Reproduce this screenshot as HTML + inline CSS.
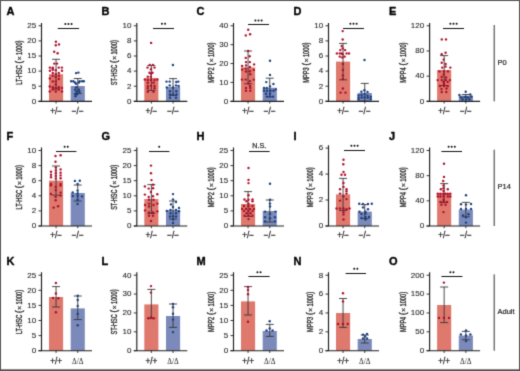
<!DOCTYPE html>
<html><head><meta charset="utf-8"><style>
html,body{margin:0;padding:0;background:#fff;}
svg{display:block;font-family:"Liberation Sans",sans-serif;will-change:transform;}
</style></head><body>
<svg width="520" height="371" viewBox="0 0 520 371">
<defs><filter id="soft" x="0" y="0" width="520" height="371" filterUnits="userSpaceOnUse" color-interpolation-filters="sRGB"><feConvolveMatrix order="3" kernelMatrix="2 10 2 10 52 10 2 10 2" divisor="100" edgeMode="duplicate"/></filter></defs>
<g filter="url(#soft)">
<rect x="0" y="0" width="520" height="371" fill="#ffffff"/>
<text x="6.5" y="15.3" font-size="11" font-weight="bold" fill="#000" stroke="#000" stroke-width="0.35">A</text>
<rect x="49" y="74.2" width="14.1" height="27.1" fill="#df786d"/>
<rect x="70.7" y="86" width="14.1" height="15.3" fill="#7b8abb"/>
<path d="M56.05 59.3V89.1M52.05 59.3H60.05M52.05 89.1H60.05" stroke="#353535" stroke-width="0.9" fill="none"/>
<path d="M77.75 78.5V93.5M73.75 78.5H81.75M73.75 93.5H81.75" stroke="#353535" stroke-width="0.9" fill="none"/>
<circle cx="55.9" cy="41.8" r="1.2" fill="#ad0f29"/>
<circle cx="59" cy="44.4" r="1.2" fill="#ad0f29"/>
<circle cx="55.8" cy="45.3" r="1.2" fill="#ad0f29"/>
<circle cx="54.2" cy="51.8" r="1.2" fill="#ad0f29"/>
<circle cx="57.6" cy="53.3" r="1.2" fill="#ad0f29"/>
<circle cx="54.3" cy="63.6" r="1.2" fill="#ad0f29"/>
<circle cx="57" cy="63.6" r="1.2" fill="#ad0f29"/>
<circle cx="49.9" cy="67.6" r="1.2" fill="#ad0f29"/>
<circle cx="52.8" cy="67.6" r="1.2" fill="#ad0f29"/>
<circle cx="58.8" cy="67.6" r="1.2" fill="#ad0f29"/>
<circle cx="61.9" cy="67.6" r="1.2" fill="#ad0f29"/>
<circle cx="52.8" cy="69.8" r="1.2" fill="#ad0f29"/>
<circle cx="55.8" cy="70.3" r="1.2" fill="#ad0f29"/>
<circle cx="49.9" cy="70.8" r="1.2" fill="#ad0f29"/>
<circle cx="62" cy="70.8" r="1.2" fill="#ad0f29"/>
<circle cx="52.8" cy="72.9" r="1.2" fill="#ad0f29"/>
<circle cx="58.8" cy="72.9" r="1.2" fill="#ad0f29"/>
<circle cx="55.8" cy="74" r="1.2" fill="#ad0f29"/>
<circle cx="52.7" cy="75.8" r="1.2" fill="#ad0f29"/>
<circle cx="58.9" cy="75.8" r="1.2" fill="#ad0f29"/>
<circle cx="55.7" cy="77" r="1.2" fill="#ad0f29"/>
<circle cx="49.8" cy="78.5" r="1.2" fill="#ad0f29"/>
<circle cx="52.7" cy="68.8" r="1.2" fill="#ad0f29"/>
<circle cx="58.8" cy="79" r="1.2" fill="#ad0f29"/>
<circle cx="52.8" cy="81.4" r="1.2" fill="#ad0f29"/>
<circle cx="55.8" cy="81.4" r="1.2" fill="#ad0f29"/>
<circle cx="55.8" cy="84.4" r="1.2" fill="#ad0f29"/>
<circle cx="49.7" cy="86.5" r="1.2" fill="#ad0f29"/>
<circle cx="52.9" cy="87.3" r="1.2" fill="#ad0f29"/>
<circle cx="58.8" cy="87.3" r="1.2" fill="#ad0f29"/>
<circle cx="55.8" cy="88" r="1.2" fill="#ad0f29"/>
<circle cx="62" cy="88" r="1.2" fill="#ad0f29"/>
<circle cx="52.8" cy="89.5" r="1.2" fill="#ad0f29"/>
<circle cx="58.8" cy="89.5" r="1.2" fill="#ad0f29"/>
<circle cx="49.7" cy="91.5" r="1.2" fill="#ad0f29"/>
<circle cx="55.8" cy="91.5" r="1.2" fill="#ad0f29"/>
<circle cx="62" cy="91.5" r="1.2" fill="#ad0f29"/>
<circle cx="76.1" cy="73.1" r="1.2" fill="#193f7e"/>
<circle cx="78.4" cy="72.6" r="1.2" fill="#193f7e"/>
<circle cx="71.2" cy="81.3" r="1.2" fill="#193f7e"/>
<circle cx="73.3" cy="81.3" r="1.2" fill="#193f7e"/>
<circle cx="79.7" cy="81.3" r="1.2" fill="#193f7e"/>
<circle cx="82.2" cy="81.3" r="1.2" fill="#193f7e"/>
<circle cx="83.8" cy="81.3" r="1.2" fill="#193f7e"/>
<circle cx="74.9" cy="82.5" r="1.2" fill="#193f7e"/>
<circle cx="78.9" cy="82.5" r="1.2" fill="#193f7e"/>
<circle cx="76.1" cy="83.8" r="1.2" fill="#193f7e"/>
<circle cx="76.1" cy="87.4" r="1.2" fill="#193f7e"/>
<circle cx="75.3" cy="89.8" r="1.2" fill="#193f7e"/>
<circle cx="79" cy="89.8" r="1.2" fill="#193f7e"/>
<circle cx="76.5" cy="91.8" r="1.2" fill="#193f7e"/>
<circle cx="79.5" cy="91.8" r="1.2" fill="#193f7e"/>
<circle cx="77" cy="94.3" r="1.2" fill="#193f7e"/>
<circle cx="75.5" cy="94.3" r="1.2" fill="#193f7e"/>
<circle cx="75.5" cy="96.3" r="1.2" fill="#193f7e"/>
<path d="M41.5 22.9V101.3M38.5 101.3H92" stroke="#1e1e1e" stroke-width="1.15" fill="none"/>
<path d="M38.5 101.3H41.5" stroke="#1e1e1e" stroke-width="0.9"/>
<text x="36.1" y="103.65" font-size="8" text-anchor="end" fill="#2a2a2a" stroke="#2a2a2a" stroke-width="0.12">0</text>
<path d="M38.5 86.2H41.5" stroke="#1e1e1e" stroke-width="0.9"/>
<text x="36.1" y="88.55" font-size="8" text-anchor="end" fill="#2a2a2a" stroke="#2a2a2a" stroke-width="0.12">5</text>
<path d="M38.5 71.1H41.5" stroke="#1e1e1e" stroke-width="0.9"/>
<text x="36.1" y="73.45" font-size="8" text-anchor="end" fill="#2a2a2a" stroke="#2a2a2a" stroke-width="0.12">10</text>
<path d="M38.5 56H41.5" stroke="#1e1e1e" stroke-width="0.9"/>
<text x="36.1" y="58.35" font-size="8" text-anchor="end" fill="#2a2a2a" stroke="#2a2a2a" stroke-width="0.12">15</text>
<path d="M38.5 40.9H41.5" stroke="#1e1e1e" stroke-width="0.9"/>
<text x="36.1" y="43.25" font-size="8" text-anchor="end" fill="#2a2a2a" stroke="#2a2a2a" stroke-width="0.12">20</text>
<path d="M38.5 25.8H41.5" stroke="#1e1e1e" stroke-width="0.9"/>
<text x="36.1" y="28.15" font-size="8" text-anchor="end" fill="#2a2a2a" stroke="#2a2a2a" stroke-width="0.12">25</text>
<path d="M56.05 101.3V103.5" stroke="#1e1e1e" stroke-width="0.9"/>
<path d="M77.75 101.3V103.5" stroke="#1e1e1e" stroke-width="0.9"/>
<text x="56.05" y="113.7" font-size="8.2" text-anchor="middle" fill="#2a2a2a" stroke="#2a2a2a" stroke-width="0.28">+/−</text>
<text x="77.75" y="113.7" font-size="8.2" text-anchor="middle" fill="#2a2a2a" stroke="#2a2a2a" stroke-width="0.28">−/−</text>
<text transform="translate(21.94 84.7) rotate(-90)" font-size="8.2" font-weight="normal" fill="#2a2a2a" stroke="#2a2a2a" stroke-width="0.36" textLength="19.4" lengthAdjust="spacingAndGlyphs">LT-HSC</text>
<text transform="translate(21.94 62.2) rotate(-90)" font-size="8.2" font-weight="normal" fill="#2a2a2a" stroke="#2a2a2a" stroke-width="0.36" text-anchor="middle">(</text>
<text transform="translate(21.64 58.4) rotate(-90)" font-size="7.4" fill="#2a2a2a" stroke="#2a2a2a" stroke-width="0.2" text-anchor="middle">×</text>
<text transform="translate(21.94 55) rotate(-90)" font-size="8.2" font-weight="normal" fill="#2a2a2a" stroke="#2a2a2a" stroke-width="0.36" textLength="14.5" lengthAdjust="spacingAndGlyphs">1000)</text>
<path d="M57.8 28.5H79.1" stroke="#111" stroke-width="1.05"/>
<circle cx="65.35" cy="24" r="1.0" fill="#0a0a0a"/>
<circle cx="68.45" cy="24" r="1.0" fill="#0a0a0a"/>
<circle cx="71.55" cy="24" r="1.0" fill="#0a0a0a"/>
<text x="101.5" y="15.3" font-size="11" font-weight="bold" fill="#000" stroke="#000" stroke-width="0.35">B</text>
<rect x="144.3" y="78" width="14.1" height="23.3" fill="#df786d"/>
<rect x="166" y="87" width="14.1" height="14.3" fill="#7b8abb"/>
<path d="M151.35 65.6V90.4M147.35 65.6H155.35M147.35 90.4H155.35" stroke="#353535" stroke-width="0.9" fill="none"/>
<path d="M173.05 78.6V95.4M169.05 78.6H177.05M169.05 95.4H177.05" stroke="#353535" stroke-width="0.9" fill="none"/>
<circle cx="151.1" cy="42.9" r="1.2" fill="#ad0f29"/>
<circle cx="149.7" cy="64.9" r="1.2" fill="#ad0f29"/>
<circle cx="152.9" cy="64.9" r="1.2" fill="#ad0f29"/>
<circle cx="147.5" cy="67.6" r="1.2" fill="#ad0f29"/>
<circle cx="154.5" cy="67.6" r="1.2" fill="#ad0f29"/>
<circle cx="151" cy="69.2" r="1.2" fill="#ad0f29"/>
<circle cx="149.5" cy="72.7" r="1.2" fill="#ad0f29"/>
<circle cx="152.5" cy="72.7" r="1.2" fill="#ad0f29"/>
<circle cx="151" cy="73.8" r="1.2" fill="#ad0f29"/>
<circle cx="147.8" cy="76.7" r="1.2" fill="#ad0f29"/>
<circle cx="150.8" cy="76.7" r="1.2" fill="#ad0f29"/>
<circle cx="144.8" cy="79.6" r="1.2" fill="#ad0f29"/>
<circle cx="147.8" cy="80" r="1.2" fill="#ad0f29"/>
<circle cx="151" cy="80" r="1.2" fill="#ad0f29"/>
<circle cx="154.5" cy="80" r="1.2" fill="#ad0f29"/>
<circle cx="157.3" cy="79.6" r="1.2" fill="#ad0f29"/>
<circle cx="147.8" cy="82.7" r="1.2" fill="#ad0f29"/>
<circle cx="153.5" cy="82.7" r="1.2" fill="#ad0f29"/>
<circle cx="147.8" cy="85.9" r="1.2" fill="#ad0f29"/>
<circle cx="151" cy="85.9" r="1.2" fill="#ad0f29"/>
<circle cx="154.5" cy="85.9" r="1.2" fill="#ad0f29"/>
<circle cx="147.8" cy="88.3" r="1.2" fill="#ad0f29"/>
<circle cx="154.5" cy="88.3" r="1.2" fill="#ad0f29"/>
<circle cx="147.8" cy="91.8" r="1.2" fill="#ad0f29"/>
<circle cx="153.5" cy="91.8" r="1.2" fill="#ad0f29"/>
<circle cx="172.9" cy="65" r="1.2" fill="#193f7e"/>
<circle cx="166.5" cy="81.6" r="1.2" fill="#193f7e"/>
<circle cx="169.7" cy="81.6" r="1.2" fill="#193f7e"/>
<circle cx="176.3" cy="82" r="1.2" fill="#193f7e"/>
<circle cx="178.3" cy="81.6" r="1.2" fill="#193f7e"/>
<circle cx="169.7" cy="85.4" r="1.2" fill="#193f7e"/>
<circle cx="176" cy="85.4" r="1.2" fill="#193f7e"/>
<circle cx="178.6" cy="86" r="1.2" fill="#193f7e"/>
<circle cx="166.8" cy="87.5" r="1.2" fill="#193f7e"/>
<circle cx="173" cy="87.5" r="1.2" fill="#193f7e"/>
<circle cx="170" cy="91.3" r="1.2" fill="#193f7e"/>
<circle cx="176.3" cy="91.3" r="1.2" fill="#193f7e"/>
<circle cx="170" cy="94.5" r="1.2" fill="#193f7e"/>
<circle cx="173" cy="94.5" r="1.2" fill="#193f7e"/>
<circle cx="176.5" cy="94.5" r="1.2" fill="#193f7e"/>
<circle cx="170" cy="97.8" r="1.2" fill="#193f7e"/>
<circle cx="176" cy="97.8" r="1.2" fill="#193f7e"/>
<path d="M136.8 22.9V101.3M133.8 101.3H187.3" stroke="#1e1e1e" stroke-width="1.15" fill="none"/>
<path d="M133.8 101.3H136.8" stroke="#1e1e1e" stroke-width="0.9"/>
<text x="131.4" y="103.65" font-size="8" text-anchor="end" fill="#2a2a2a" stroke="#2a2a2a" stroke-width="0.12">0</text>
<path d="M133.8 86.2H136.8" stroke="#1e1e1e" stroke-width="0.9"/>
<text x="131.4" y="88.55" font-size="8" text-anchor="end" fill="#2a2a2a" stroke="#2a2a2a" stroke-width="0.12">2</text>
<path d="M133.8 71.1H136.8" stroke="#1e1e1e" stroke-width="0.9"/>
<text x="131.4" y="73.45" font-size="8" text-anchor="end" fill="#2a2a2a" stroke="#2a2a2a" stroke-width="0.12">4</text>
<path d="M133.8 56H136.8" stroke="#1e1e1e" stroke-width="0.9"/>
<text x="131.4" y="58.35" font-size="8" text-anchor="end" fill="#2a2a2a" stroke="#2a2a2a" stroke-width="0.12">6</text>
<path d="M133.8 40.9H136.8" stroke="#1e1e1e" stroke-width="0.9"/>
<text x="131.4" y="43.25" font-size="8" text-anchor="end" fill="#2a2a2a" stroke="#2a2a2a" stroke-width="0.12">8</text>
<path d="M133.8 25.8H136.8" stroke="#1e1e1e" stroke-width="0.9"/>
<text x="131.4" y="28.15" font-size="8" text-anchor="end" fill="#2a2a2a" stroke="#2a2a2a" stroke-width="0.12">10</text>
<path d="M151.35 101.3V103.5" stroke="#1e1e1e" stroke-width="0.9"/>
<path d="M173.05 101.3V103.5" stroke="#1e1e1e" stroke-width="0.9"/>
<text x="151.35" y="113.7" font-size="8.2" text-anchor="middle" fill="#2a2a2a" stroke="#2a2a2a" stroke-width="0.28">+/−</text>
<text x="173.05" y="113.7" font-size="8.2" text-anchor="middle" fill="#2a2a2a" stroke="#2a2a2a" stroke-width="0.28">−/−</text>
<text transform="translate(117.24 85.15) rotate(-90)" font-size="8.2" font-weight="normal" fill="#2a2a2a" stroke="#2a2a2a" stroke-width="0.36" textLength="20.3" lengthAdjust="spacingAndGlyphs">ST-HSC</text>
<text transform="translate(117.24 61.75) rotate(-90)" font-size="8.2" font-weight="normal" fill="#2a2a2a" stroke="#2a2a2a" stroke-width="0.36" text-anchor="middle">(</text>
<text transform="translate(116.94 57.95) rotate(-90)" font-size="7.4" fill="#2a2a2a" stroke="#2a2a2a" stroke-width="0.2" text-anchor="middle">×</text>
<text transform="translate(117.24 54.55) rotate(-90)" font-size="8.2" font-weight="normal" fill="#2a2a2a" stroke="#2a2a2a" stroke-width="0.36" textLength="14.5" lengthAdjust="spacingAndGlyphs">1000)</text>
<path d="M153 28.5H174" stroke="#111" stroke-width="1.05"/>
<circle cx="161.95" cy="23.8" r="1.0" fill="#0a0a0a"/>
<circle cx="165.05" cy="23.8" r="1.0" fill="#0a0a0a"/>
<text x="196.5" y="15.3" font-size="11" font-weight="bold" fill="#000" stroke="#000" stroke-width="0.35">C</text>
<rect x="241" y="67.4" width="14.1" height="33.9" fill="#df786d"/>
<rect x="262.7" y="87.8" width="14.1" height="13.5" fill="#7b8abb"/>
<path d="M248.05 51V83.8M244.05 51H252.05M244.05 83.8H252.05" stroke="#353535" stroke-width="0.9" fill="none"/>
<path d="M269.75 78.2V96.8M265.75 78.2H273.75M265.75 96.8H273.75" stroke="#353535" stroke-width="0.9" fill="none"/>
<circle cx="248.2" cy="29.8" r="1.2" fill="#ad0f29"/>
<circle cx="245.8" cy="35.4" r="1.2" fill="#ad0f29"/>
<circle cx="250.1" cy="34.2" r="1.2" fill="#ad0f29"/>
<circle cx="248.2" cy="51" r="1.2" fill="#ad0f29"/>
<circle cx="249.6" cy="56.3" r="1.2" fill="#ad0f29"/>
<circle cx="245.7" cy="57.9" r="1.2" fill="#ad0f29"/>
<circle cx="246" cy="62.1" r="1.2" fill="#ad0f29"/>
<circle cx="249.9" cy="62.1" r="1.2" fill="#ad0f29"/>
<circle cx="242.1" cy="66" r="1.2" fill="#ad0f29"/>
<circle cx="246" cy="65.4" r="1.2" fill="#ad0f29"/>
<circle cx="254.1" cy="64.4" r="1.2" fill="#ad0f29"/>
<circle cx="249.9" cy="67" r="1.2" fill="#ad0f29"/>
<circle cx="245.7" cy="68.6" r="1.2" fill="#ad0f29"/>
<circle cx="242.1" cy="69.6" r="1.2" fill="#ad0f29"/>
<circle cx="253.8" cy="69.9" r="1.2" fill="#ad0f29"/>
<circle cx="246" cy="71.5" r="1.2" fill="#ad0f29"/>
<circle cx="249.9" cy="71.2" r="1.2" fill="#ad0f29"/>
<circle cx="250.3" cy="74.3" r="1.2" fill="#ad0f29"/>
<circle cx="241.9" cy="79.6" r="1.2" fill="#ad0f29"/>
<circle cx="245.7" cy="79.6" r="1.2" fill="#ad0f29"/>
<circle cx="253.8" cy="79.6" r="1.2" fill="#ad0f29"/>
<circle cx="250" cy="81.1" r="1.2" fill="#ad0f29"/>
<circle cx="248.5" cy="83.5" r="1.2" fill="#ad0f29"/>
<circle cx="250" cy="86" r="1.2" fill="#ad0f29"/>
<circle cx="246" cy="87.9" r="1.2" fill="#ad0f29"/>
<circle cx="250.3" cy="87.9" r="1.2" fill="#ad0f29"/>
<circle cx="246" cy="90.8" r="1.2" fill="#ad0f29"/>
<circle cx="250.3" cy="90.8" r="1.2" fill="#ad0f29"/>
<circle cx="270" cy="60.7" r="1.2" fill="#193f7e"/>
<circle cx="270" cy="74.9" r="1.2" fill="#193f7e"/>
<circle cx="266.3" cy="82.1" r="1.2" fill="#193f7e"/>
<circle cx="273.4" cy="84" r="1.2" fill="#193f7e"/>
<circle cx="270" cy="86.4" r="1.2" fill="#193f7e"/>
<circle cx="264" cy="87.9" r="1.2" fill="#193f7e"/>
<circle cx="266.8" cy="87.9" r="1.2" fill="#193f7e"/>
<circle cx="275.8" cy="89.4" r="1.2" fill="#193f7e"/>
<circle cx="264" cy="90.8" r="1.2" fill="#193f7e"/>
<circle cx="267" cy="90.8" r="1.2" fill="#193f7e"/>
<circle cx="270.5" cy="90.8" r="1.2" fill="#193f7e"/>
<circle cx="273.5" cy="90.8" r="1.2" fill="#193f7e"/>
<circle cx="266" cy="93.7" r="1.2" fill="#193f7e"/>
<circle cx="270" cy="93.7" r="1.2" fill="#193f7e"/>
<circle cx="267" cy="96.6" r="1.2" fill="#193f7e"/>
<circle cx="270" cy="96.6" r="1.2" fill="#193f7e"/>
<circle cx="273" cy="96.6" r="1.2" fill="#193f7e"/>
<path d="M233.5 22.9V101.3M230.5 101.3H284" stroke="#1e1e1e" stroke-width="1.15" fill="none"/>
<path d="M230.5 101.3H233.5" stroke="#1e1e1e" stroke-width="0.9"/>
<text x="228.1" y="103.65" font-size="8" text-anchor="end" fill="#2a2a2a" stroke="#2a2a2a" stroke-width="0.12">0</text>
<path d="M230.5 82.42H233.5" stroke="#1e1e1e" stroke-width="0.9"/>
<text x="228.1" y="84.77" font-size="8" text-anchor="end" fill="#2a2a2a" stroke="#2a2a2a" stroke-width="0.12">10</text>
<path d="M230.5 63.55H233.5" stroke="#1e1e1e" stroke-width="0.9"/>
<text x="228.1" y="65.9" font-size="8" text-anchor="end" fill="#2a2a2a" stroke="#2a2a2a" stroke-width="0.12">20</text>
<path d="M230.5 44.67H233.5" stroke="#1e1e1e" stroke-width="0.9"/>
<text x="228.1" y="47.02" font-size="8" text-anchor="end" fill="#2a2a2a" stroke="#2a2a2a" stroke-width="0.12">30</text>
<path d="M230.5 25.8H233.5" stroke="#1e1e1e" stroke-width="0.9"/>
<text x="228.1" y="28.15" font-size="8" text-anchor="end" fill="#2a2a2a" stroke="#2a2a2a" stroke-width="0.12">40</text>
<path d="M248.05 101.3V103.5" stroke="#1e1e1e" stroke-width="0.9"/>
<path d="M269.75 101.3V103.5" stroke="#1e1e1e" stroke-width="0.9"/>
<text x="248.05" y="113.7" font-size="8.2" text-anchor="middle" fill="#2a2a2a" stroke="#2a2a2a" stroke-width="0.28">+/−</text>
<text x="269.75" y="113.7" font-size="8.2" text-anchor="middle" fill="#2a2a2a" stroke="#2a2a2a" stroke-width="0.28">−/−</text>
<text transform="translate(213.94 82.65) rotate(-90)" font-size="8.2" font-weight="normal" fill="#2a2a2a" stroke="#2a2a2a" stroke-width="0.36" textLength="15.3" lengthAdjust="spacingAndGlyphs">MPP2</text>
<text transform="translate(213.94 64.25) rotate(-90)" font-size="8.2" font-weight="normal" fill="#2a2a2a" stroke="#2a2a2a" stroke-width="0.36" text-anchor="middle">(</text>
<text transform="translate(213.64 60.45) rotate(-90)" font-size="7.4" fill="#2a2a2a" stroke="#2a2a2a" stroke-width="0.2" text-anchor="middle">×</text>
<text transform="translate(213.94 57.05) rotate(-90)" font-size="8.2" font-weight="normal" fill="#2a2a2a" stroke="#2a2a2a" stroke-width="0.36" textLength="14.5" lengthAdjust="spacingAndGlyphs">1000)</text>
<path d="M248 24.5H269" stroke="#111" stroke-width="1.05"/>
<circle cx="255.4" cy="20.4" r="1.0" fill="#0a0a0a"/>
<circle cx="258.5" cy="20.4" r="1.0" fill="#0a0a0a"/>
<circle cx="261.6" cy="20.4" r="1.0" fill="#0a0a0a"/>
<text x="293.6" y="15.3" font-size="11" font-weight="bold" fill="#000" stroke="#000" stroke-width="0.35">D</text>
<rect x="336" y="61.6" width="14.1" height="39.7" fill="#df786d"/>
<rect x="357.7" y="93" width="14.1" height="8.3" fill="#7b8abb"/>
<path d="M343.05 43.4V79.8M339.05 43.4H347.05M339.05 79.8H347.05" stroke="#353535" stroke-width="0.9" fill="none"/>
<path d="M364.75 83.4V101.3M360.75 83.4H368.75M360.75 101.3H368.75" stroke="#353535" stroke-width="0.9" fill="none"/>
<circle cx="342.7" cy="31.1" r="1.2" fill="#ad0f29"/>
<circle cx="342.7" cy="39.5" r="1.2" fill="#ad0f29"/>
<circle cx="341.7" cy="46" r="1.2" fill="#ad0f29"/>
<circle cx="342.7" cy="48.4" r="1.2" fill="#ad0f29"/>
<circle cx="340.3" cy="50.1" r="1.2" fill="#ad0f29"/>
<circle cx="345.1" cy="50.1" r="1.2" fill="#ad0f29"/>
<circle cx="336.9" cy="53.4" r="1.2" fill="#ad0f29"/>
<circle cx="339.8" cy="53.4" r="1.2" fill="#ad0f29"/>
<circle cx="341.7" cy="53.4" r="1.2" fill="#ad0f29"/>
<circle cx="346.6" cy="53.4" r="1.2" fill="#ad0f29"/>
<circle cx="349" cy="53.4" r="1.2" fill="#ad0f29"/>
<circle cx="342.7" cy="54.3" r="1.2" fill="#ad0f29"/>
<circle cx="339.8" cy="56.6" r="1.2" fill="#ad0f29"/>
<circle cx="344.6" cy="56.6" r="1.2" fill="#ad0f29"/>
<circle cx="342.3" cy="57.5" r="1.2" fill="#ad0f29"/>
<circle cx="342.9" cy="64" r="1.2" fill="#ad0f29"/>
<circle cx="342.9" cy="70" r="1.2" fill="#ad0f29"/>
<circle cx="342.9" cy="75.4" r="1.2" fill="#ad0f29"/>
<circle cx="342.9" cy="79" r="1.2" fill="#ad0f29"/>
<circle cx="342.9" cy="88.5" r="1.2" fill="#ad0f29"/>
<circle cx="340.6" cy="92.6" r="1.2" fill="#ad0f29"/>
<circle cx="345.5" cy="92.6" r="1.2" fill="#ad0f29"/>
<circle cx="364.5" cy="60" r="1.2" fill="#193f7e"/>
<circle cx="364.4" cy="90.3" r="1.2" fill="#193f7e"/>
<circle cx="361.4" cy="91.8" r="1.2" fill="#193f7e"/>
<circle cx="367.5" cy="92" r="1.2" fill="#193f7e"/>
<circle cx="364.6" cy="93.9" r="1.2" fill="#193f7e"/>
<circle cx="361.6" cy="94.9" r="1.2" fill="#193f7e"/>
<circle cx="358.5" cy="95.5" r="1.2" fill="#193f7e"/>
<circle cx="367.5" cy="95.8" r="1.2" fill="#193f7e"/>
<circle cx="370.8" cy="96.8" r="1.2" fill="#193f7e"/>
<circle cx="358.5" cy="97.8" r="1.2" fill="#193f7e"/>
<circle cx="361.7" cy="97.5" r="1.2" fill="#193f7e"/>
<circle cx="364.6" cy="97.5" r="1.2" fill="#193f7e"/>
<circle cx="367.8" cy="97.8" r="1.2" fill="#193f7e"/>
<circle cx="358.5" cy="99.4" r="1.2" fill="#193f7e"/>
<circle cx="370.8" cy="99.1" r="1.2" fill="#193f7e"/>
<path d="M328.5 22.9V101.3M325.5 101.3H379" stroke="#1e1e1e" stroke-width="1.15" fill="none"/>
<path d="M325.5 101.3H328.5" stroke="#1e1e1e" stroke-width="0.9"/>
<text x="323.1" y="103.65" font-size="8" text-anchor="end" fill="#2a2a2a" stroke="#2a2a2a" stroke-width="0.12">0</text>
<path d="M325.5 86.2H328.5" stroke="#1e1e1e" stroke-width="0.9"/>
<text x="323.1" y="88.55" font-size="8" text-anchor="end" fill="#2a2a2a" stroke="#2a2a2a" stroke-width="0.12">2</text>
<path d="M325.5 71.1H328.5" stroke="#1e1e1e" stroke-width="0.9"/>
<text x="323.1" y="73.45" font-size="8" text-anchor="end" fill="#2a2a2a" stroke="#2a2a2a" stroke-width="0.12">4</text>
<path d="M325.5 56H328.5" stroke="#1e1e1e" stroke-width="0.9"/>
<text x="323.1" y="58.35" font-size="8" text-anchor="end" fill="#2a2a2a" stroke="#2a2a2a" stroke-width="0.12">6</text>
<path d="M325.5 40.9H328.5" stroke="#1e1e1e" stroke-width="0.9"/>
<text x="323.1" y="43.25" font-size="8" text-anchor="end" fill="#2a2a2a" stroke="#2a2a2a" stroke-width="0.12">8</text>
<path d="M325.5 25.8H328.5" stroke="#1e1e1e" stroke-width="0.9"/>
<text x="323.1" y="28.15" font-size="8" text-anchor="end" fill="#2a2a2a" stroke="#2a2a2a" stroke-width="0.12">10</text>
<path d="M343.05 101.3V103.5" stroke="#1e1e1e" stroke-width="0.9"/>
<path d="M364.75 101.3V103.5" stroke="#1e1e1e" stroke-width="0.9"/>
<text x="343.05" y="113.7" font-size="8.2" text-anchor="middle" fill="#2a2a2a" stroke="#2a2a2a" stroke-width="0.28">+/−</text>
<text x="364.75" y="113.7" font-size="8.2" text-anchor="middle" fill="#2a2a2a" stroke="#2a2a2a" stroke-width="0.28">−/−</text>
<text transform="translate(308.94 82.65) rotate(-90)" font-size="8.2" font-weight="normal" fill="#2a2a2a" stroke="#2a2a2a" stroke-width="0.36" textLength="15.3" lengthAdjust="spacingAndGlyphs">MPP3</text>
<text transform="translate(308.94 64.25) rotate(-90)" font-size="8.2" font-weight="normal" fill="#2a2a2a" stroke="#2a2a2a" stroke-width="0.36" text-anchor="middle">(</text>
<text transform="translate(308.64 60.45) rotate(-90)" font-size="7.4" fill="#2a2a2a" stroke="#2a2a2a" stroke-width="0.2" text-anchor="middle">×</text>
<text transform="translate(308.94 57.05) rotate(-90)" font-size="8.2" font-weight="normal" fill="#2a2a2a" stroke="#2a2a2a" stroke-width="0.36" textLength="14.5" lengthAdjust="spacingAndGlyphs">1000)</text>
<path d="M343 28.5H364" stroke="#111" stroke-width="1.05"/>
<circle cx="350.4" cy="23.8" r="1.0" fill="#0a0a0a"/>
<circle cx="353.5" cy="23.8" r="1.0" fill="#0a0a0a"/>
<circle cx="356.6" cy="23.8" r="1.0" fill="#0a0a0a"/>
<text x="389" y="15.3" font-size="11" font-weight="bold" fill="#000" stroke="#000" stroke-width="0.35">E</text>
<rect x="437.1" y="70" width="14.1" height="31.3" fill="#df786d"/>
<rect x="458.8" y="95.7" width="14.1" height="5.6" fill="#7b8abb"/>
<path d="M444.15 55.6V85.5M440.15 55.6H448.15M440.15 85.5H448.15" stroke="#353535" stroke-width="0.9" fill="none"/>
<path d="M465.85 94.5V97M461.85 94.5H469.85M461.85 97H469.85" stroke="#353535" stroke-width="0.9" fill="none"/>
<circle cx="441.8" cy="39.4" r="1.2" fill="#ad0f29"/>
<circle cx="446" cy="39.4" r="1.2" fill="#ad0f29"/>
<circle cx="445.6" cy="52.8" r="1.2" fill="#ad0f29"/>
<circle cx="441.7" cy="54.3" r="1.2" fill="#ad0f29"/>
<circle cx="443.7" cy="59.6" r="1.2" fill="#ad0f29"/>
<circle cx="441.7" cy="62.7" r="1.2" fill="#ad0f29"/>
<circle cx="445.6" cy="64" r="1.2" fill="#ad0f29"/>
<circle cx="442.2" cy="67.6" r="1.2" fill="#ad0f29"/>
<circle cx="445.6" cy="66.6" r="1.2" fill="#ad0f29"/>
<circle cx="450.3" cy="67.6" r="1.2" fill="#ad0f29"/>
<circle cx="439.5" cy="71.4" r="1.2" fill="#ad0f29"/>
<circle cx="443.9" cy="71.4" r="1.2" fill="#ad0f29"/>
<circle cx="447.9" cy="71.4" r="1.2" fill="#ad0f29"/>
<circle cx="437.6" cy="80.1" r="1.2" fill="#ad0f29"/>
<circle cx="441.7" cy="80.1" r="1.2" fill="#ad0f29"/>
<circle cx="445.8" cy="80.1" r="1.2" fill="#ad0f29"/>
<circle cx="450" cy="80.1" r="1.2" fill="#ad0f29"/>
<circle cx="443.6" cy="81.9" r="1.2" fill="#ad0f29"/>
<circle cx="447.7" cy="81.9" r="1.2" fill="#ad0f29"/>
<circle cx="439.9" cy="86" r="1.2" fill="#ad0f29"/>
<circle cx="444" cy="86" r="1.2" fill="#ad0f29"/>
<circle cx="447.7" cy="86" r="1.2" fill="#ad0f29"/>
<circle cx="441.7" cy="92" r="1.2" fill="#ad0f29"/>
<circle cx="446.3" cy="92" r="1.2" fill="#ad0f29"/>
<circle cx="443.7" cy="74.5" r="1.2" fill="#ad0f29"/>
<circle cx="441.7" cy="77" r="1.2" fill="#ad0f29"/>
<circle cx="446" cy="77.5" r="1.2" fill="#ad0f29"/>
<circle cx="444" cy="84" r="1.2" fill="#ad0f29"/>
<circle cx="441.5" cy="89" r="1.2" fill="#ad0f29"/>
<circle cx="446.5" cy="88.5" r="1.2" fill="#ad0f29"/>
<circle cx="465.7" cy="91.8" r="1.2" fill="#193f7e"/>
<circle cx="459.4" cy="95" r="1.2" fill="#193f7e"/>
<circle cx="470.3" cy="94.5" r="1.2" fill="#193f7e"/>
<circle cx="460.8" cy="97.4" r="1.2" fill="#193f7e"/>
<circle cx="465.2" cy="96.9" r="1.2" fill="#193f7e"/>
<circle cx="467.6" cy="97.6" r="1.2" fill="#193f7e"/>
<circle cx="471.5" cy="96.7" r="1.2" fill="#193f7e"/>
<circle cx="462.5" cy="99.3" r="1.2" fill="#193f7e"/>
<circle cx="466" cy="99.5" r="1.2" fill="#193f7e"/>
<circle cx="469.5" cy="99.2" r="1.2" fill="#193f7e"/>
<path d="M429.6 22.9V101.3M426.6 101.3H480.1" stroke="#1e1e1e" stroke-width="1.15" fill="none"/>
<path d="M426.6 101.3H429.6" stroke="#1e1e1e" stroke-width="0.9"/>
<text x="424.2" y="103.65" font-size="8" text-anchor="end" fill="#2a2a2a" stroke="#2a2a2a" stroke-width="0.12">0</text>
<path d="M426.6 76.13H429.6" stroke="#1e1e1e" stroke-width="0.9"/>
<text x="424.2" y="78.48" font-size="8" text-anchor="end" fill="#2a2a2a" stroke="#2a2a2a" stroke-width="0.12">40</text>
<path d="M426.6 50.97H429.6" stroke="#1e1e1e" stroke-width="0.9"/>
<text x="424.2" y="53.32" font-size="8" text-anchor="end" fill="#2a2a2a" stroke="#2a2a2a" stroke-width="0.12">80</text>
<path d="M426.6 25.8H429.6" stroke="#1e1e1e" stroke-width="0.9"/>
<text x="424.2" y="28.15" font-size="8" text-anchor="end" fill="#2a2a2a" stroke="#2a2a2a" stroke-width="0.12">120</text>
<path d="M444.15 101.3V103.5" stroke="#1e1e1e" stroke-width="0.9"/>
<path d="M465.85 101.3V103.5" stroke="#1e1e1e" stroke-width="0.9"/>
<text x="444.15" y="113.7" font-size="8.2" text-anchor="middle" fill="#2a2a2a" stroke="#2a2a2a" stroke-width="0.28">+/−</text>
<text x="465.85" y="113.7" font-size="8.2" text-anchor="middle" fill="#2a2a2a" stroke="#2a2a2a" stroke-width="0.28">−/−</text>
<text transform="translate(405.81 82.65) rotate(-90)" font-size="8.2" font-weight="normal" fill="#2a2a2a" stroke="#2a2a2a" stroke-width="0.36" textLength="15.3" lengthAdjust="spacingAndGlyphs">MPP4</text>
<text transform="translate(405.81 64.25) rotate(-90)" font-size="8.2" font-weight="normal" fill="#2a2a2a" stroke="#2a2a2a" stroke-width="0.36" text-anchor="middle">(</text>
<text transform="translate(405.51 60.45) rotate(-90)" font-size="7.4" fill="#2a2a2a" stroke="#2a2a2a" stroke-width="0.2" text-anchor="middle">×</text>
<text transform="translate(405.81 57.05) rotate(-90)" font-size="8.2" font-weight="normal" fill="#2a2a2a" stroke="#2a2a2a" stroke-width="0.36" textLength="14.5" lengthAdjust="spacingAndGlyphs">1000)</text>
<path d="M443 28.5H464" stroke="#111" stroke-width="1.05"/>
<circle cx="450.4" cy="23.8" r="1.0" fill="#0a0a0a"/>
<circle cx="453.5" cy="23.8" r="1.0" fill="#0a0a0a"/>
<circle cx="456.6" cy="23.8" r="1.0" fill="#0a0a0a"/>
<text x="6.5" y="139.9" font-size="11" font-weight="bold" fill="#000" stroke="#000" stroke-width="0.35">F</text>
<rect x="49" y="180.6" width="14.1" height="45.4" fill="#df786d"/>
<rect x="70.7" y="193" width="14.1" height="33" fill="#7b8abb"/>
<path d="M56.05 166V195.2M52.05 166H60.05M52.05 195.2H60.05" stroke="#353535" stroke-width="0.9" fill="none"/>
<path d="M77.75 185V201M73.75 185H81.75M73.75 201H81.75" stroke="#353535" stroke-width="0.9" fill="none"/>
<circle cx="55.5" cy="156" r="1.2" fill="#ad0f29"/>
<circle cx="60.6" cy="155.3" r="1.2" fill="#ad0f29"/>
<circle cx="55.5" cy="161.8" r="1.2" fill="#ad0f29"/>
<circle cx="55.8" cy="167.5" r="1.2" fill="#ad0f29"/>
<circle cx="55.8" cy="170.4" r="1.2" fill="#ad0f29"/>
<circle cx="55.8" cy="173.3" r="1.2" fill="#ad0f29"/>
<circle cx="55.8" cy="176" r="1.2" fill="#ad0f29"/>
<circle cx="55.8" cy="178.6" r="1.2" fill="#ad0f29"/>
<circle cx="51" cy="171.8" r="1.2" fill="#ad0f29"/>
<circle cx="51" cy="174.8" r="1.2" fill="#ad0f29"/>
<circle cx="51" cy="177.2" r="1.2" fill="#ad0f29"/>
<circle cx="60.6" cy="169.4" r="1.2" fill="#ad0f29"/>
<circle cx="60.6" cy="172.8" r="1.2" fill="#ad0f29"/>
<circle cx="60.6" cy="175.4" r="1.2" fill="#ad0f29"/>
<circle cx="60.6" cy="178.2" r="1.2" fill="#ad0f29"/>
<circle cx="51" cy="184" r="1.2" fill="#ad0f29"/>
<circle cx="60.6" cy="184" r="1.2" fill="#ad0f29"/>
<circle cx="50.9" cy="185.3" r="1.2" fill="#ad0f29"/>
<circle cx="60.6" cy="185.6" r="1.2" fill="#ad0f29"/>
<circle cx="55.7" cy="186.9" r="1.2" fill="#ad0f29"/>
<circle cx="55.7" cy="190.1" r="1.2" fill="#ad0f29"/>
<circle cx="60.6" cy="192.6" r="1.2" fill="#ad0f29"/>
<circle cx="50.9" cy="194" r="1.2" fill="#ad0f29"/>
<circle cx="60.6" cy="195.5" r="1.2" fill="#ad0f29"/>
<circle cx="55.7" cy="196.9" r="1.2" fill="#ad0f29"/>
<circle cx="55.7" cy="200.3" r="1.2" fill="#ad0f29"/>
<circle cx="58.1" cy="206.2" r="1.2" fill="#ad0f29"/>
<circle cx="53.6" cy="207.6" r="1.2" fill="#ad0f29"/>
<circle cx="74.9" cy="180.9" r="1.2" fill="#193f7e"/>
<circle cx="79.8" cy="180.7" r="1.2" fill="#193f7e"/>
<circle cx="77.6" cy="184" r="1.2" fill="#193f7e"/>
<circle cx="77.6" cy="190.6" r="1.2" fill="#193f7e"/>
<circle cx="72.7" cy="192.4" r="1.2" fill="#193f7e"/>
<circle cx="77.6" cy="193.5" r="1.2" fill="#193f7e"/>
<circle cx="72.7" cy="196" r="1.2" fill="#193f7e"/>
<circle cx="77.6" cy="196" r="1.2" fill="#193f7e"/>
<circle cx="82.1" cy="196.4" r="1.2" fill="#193f7e"/>
<circle cx="77.6" cy="199.8" r="1.2" fill="#193f7e"/>
<circle cx="77.6" cy="204" r="1.2" fill="#193f7e"/>
<path d="M41.5 147.6V226M38.5 226H92" stroke="#1e1e1e" stroke-width="1.15" fill="none"/>
<path d="M38.5 226H41.5" stroke="#1e1e1e" stroke-width="0.9"/>
<text x="36.1" y="228.35" font-size="8" text-anchor="end" fill="#2a2a2a" stroke="#2a2a2a" stroke-width="0.12">0</text>
<path d="M38.5 210.9H41.5" stroke="#1e1e1e" stroke-width="0.9"/>
<text x="36.1" y="213.25" font-size="8" text-anchor="end" fill="#2a2a2a" stroke="#2a2a2a" stroke-width="0.12">2</text>
<path d="M38.5 195.8H41.5" stroke="#1e1e1e" stroke-width="0.9"/>
<text x="36.1" y="198.15" font-size="8" text-anchor="end" fill="#2a2a2a" stroke="#2a2a2a" stroke-width="0.12">4</text>
<path d="M38.5 180.7H41.5" stroke="#1e1e1e" stroke-width="0.9"/>
<text x="36.1" y="183.05" font-size="8" text-anchor="end" fill="#2a2a2a" stroke="#2a2a2a" stroke-width="0.12">6</text>
<path d="M38.5 165.6H41.5" stroke="#1e1e1e" stroke-width="0.9"/>
<text x="36.1" y="167.95" font-size="8" text-anchor="end" fill="#2a2a2a" stroke="#2a2a2a" stroke-width="0.12">8</text>
<path d="M38.5 150.5H41.5" stroke="#1e1e1e" stroke-width="0.9"/>
<text x="36.1" y="152.85" font-size="8" text-anchor="end" fill="#2a2a2a" stroke="#2a2a2a" stroke-width="0.12">10</text>
<path d="M56.05 226V228.2" stroke="#1e1e1e" stroke-width="0.9"/>
<path d="M77.75 226V228.2" stroke="#1e1e1e" stroke-width="0.9"/>
<text x="56.05" y="238.4" font-size="8.2" text-anchor="middle" fill="#2a2a2a" stroke="#2a2a2a" stroke-width="0.28">+/−</text>
<text x="77.75" y="238.4" font-size="8.2" text-anchor="middle" fill="#2a2a2a" stroke="#2a2a2a" stroke-width="0.28">−/−</text>
<text transform="translate(21.94 209.4) rotate(-90)" font-size="8.2" font-weight="normal" fill="#2a2a2a" stroke="#2a2a2a" stroke-width="0.36" textLength="19.4" lengthAdjust="spacingAndGlyphs">LT-HSC</text>
<text transform="translate(21.94 186.9) rotate(-90)" font-size="8.2" font-weight="normal" fill="#2a2a2a" stroke="#2a2a2a" stroke-width="0.36" text-anchor="middle">(</text>
<text transform="translate(21.64 183.1) rotate(-90)" font-size="7.4" fill="#2a2a2a" stroke="#2a2a2a" stroke-width="0.2" text-anchor="middle">×</text>
<text transform="translate(21.94 179.7) rotate(-90)" font-size="8.2" font-weight="normal" fill="#2a2a2a" stroke="#2a2a2a" stroke-width="0.36" textLength="14.5" lengthAdjust="spacingAndGlyphs">1000)</text>
<path d="M56 151.5H76.4" stroke="#111" stroke-width="1.05"/>
<circle cx="64.65" cy="146.8" r="1.0" fill="#0a0a0a"/>
<circle cx="67.75" cy="146.8" r="1.0" fill="#0a0a0a"/>
<text x="101.5" y="139.9" font-size="11" font-weight="bold" fill="#000" stroke="#000" stroke-width="0.35">G</text>
<rect x="144.3" y="199" width="14.1" height="27" fill="#df786d"/>
<rect x="166" y="210" width="14.1" height="16" fill="#7b8abb"/>
<path d="M151.35 184.6V213.4M147.35 184.6H155.35M147.35 213.4H155.35" stroke="#353535" stroke-width="0.9" fill="none"/>
<path d="M173.05 201V219M169.05 201H177.05M169.05 219H177.05" stroke="#353535" stroke-width="0.9" fill="none"/>
<circle cx="151" cy="165.6" r="1.2" fill="#ad0f29"/>
<circle cx="151" cy="173.3" r="1.2" fill="#ad0f29"/>
<circle cx="151.5" cy="180.1" r="1.2" fill="#ad0f29"/>
<circle cx="153.1" cy="184.8" r="1.2" fill="#ad0f29"/>
<circle cx="144.9" cy="186.4" r="1.2" fill="#ad0f29"/>
<circle cx="148.7" cy="188.6" r="1.2" fill="#ad0f29"/>
<circle cx="153.1" cy="188.3" r="1.2" fill="#ad0f29"/>
<circle cx="150.9" cy="192" r="1.2" fill="#ad0f29"/>
<circle cx="144.9" cy="194.6" r="1.2" fill="#ad0f29"/>
<circle cx="157.3" cy="194.3" r="1.2" fill="#ad0f29"/>
<circle cx="148.7" cy="197" r="1.2" fill="#ad0f29"/>
<circle cx="153" cy="196.3" r="1.2" fill="#ad0f29"/>
<circle cx="149" cy="199.7" r="1.2" fill="#ad0f29"/>
<circle cx="153.5" cy="199.7" r="1.2" fill="#ad0f29"/>
<circle cx="145" cy="205" r="1.2" fill="#ad0f29"/>
<circle cx="149" cy="203.6" r="1.2" fill="#ad0f29"/>
<circle cx="153.5" cy="205" r="1.2" fill="#ad0f29"/>
<circle cx="157.3" cy="203.6" r="1.2" fill="#ad0f29"/>
<circle cx="149" cy="206.5" r="1.2" fill="#ad0f29"/>
<circle cx="145" cy="210.4" r="1.2" fill="#ad0f29"/>
<circle cx="157.3" cy="211.4" r="1.2" fill="#ad0f29"/>
<circle cx="149" cy="212.5" r="1.2" fill="#ad0f29"/>
<circle cx="153" cy="212.5" r="1.2" fill="#ad0f29"/>
<circle cx="149" cy="215.7" r="1.2" fill="#ad0f29"/>
<circle cx="153" cy="215.7" r="1.2" fill="#ad0f29"/>
<circle cx="151" cy="221" r="1.2" fill="#ad0f29"/>
<circle cx="173" cy="194.1" r="1.2" fill="#193f7e"/>
<circle cx="173" cy="199.5" r="1.2" fill="#193f7e"/>
<circle cx="171" cy="204.4" r="1.2" fill="#193f7e"/>
<circle cx="176" cy="202.1" r="1.2" fill="#193f7e"/>
<circle cx="173" cy="207" r="1.2" fill="#193f7e"/>
<circle cx="179" cy="208" r="1.2" fill="#193f7e"/>
<circle cx="166.8" cy="210.9" r="1.2" fill="#193f7e"/>
<circle cx="170.5" cy="210" r="1.2" fill="#193f7e"/>
<circle cx="176" cy="210" r="1.2" fill="#193f7e"/>
<circle cx="179" cy="211.3" r="1.2" fill="#193f7e"/>
<circle cx="170.5" cy="213.3" r="1.2" fill="#193f7e"/>
<circle cx="176" cy="213.3" r="1.2" fill="#193f7e"/>
<circle cx="173" cy="216.2" r="1.2" fill="#193f7e"/>
<circle cx="170" cy="216.5" r="1.2" fill="#193f7e"/>
<circle cx="176" cy="216.5" r="1.2" fill="#193f7e"/>
<circle cx="173" cy="219.6" r="1.2" fill="#193f7e"/>
<circle cx="173" cy="223" r="1.2" fill="#193f7e"/>
<path d="M136.8 147.6V226M133.8 226H187.3" stroke="#1e1e1e" stroke-width="1.15" fill="none"/>
<path d="M133.8 226H136.8" stroke="#1e1e1e" stroke-width="0.9"/>
<text x="131.4" y="228.35" font-size="8" text-anchor="end" fill="#2a2a2a" stroke="#2a2a2a" stroke-width="0.12">0</text>
<path d="M133.8 210.9H136.8" stroke="#1e1e1e" stroke-width="0.9"/>
<text x="131.4" y="213.25" font-size="8" text-anchor="end" fill="#2a2a2a" stroke="#2a2a2a" stroke-width="0.12">5</text>
<path d="M133.8 195.8H136.8" stroke="#1e1e1e" stroke-width="0.9"/>
<text x="131.4" y="198.15" font-size="8" text-anchor="end" fill="#2a2a2a" stroke="#2a2a2a" stroke-width="0.12">10</text>
<path d="M133.8 180.7H136.8" stroke="#1e1e1e" stroke-width="0.9"/>
<text x="131.4" y="183.05" font-size="8" text-anchor="end" fill="#2a2a2a" stroke="#2a2a2a" stroke-width="0.12">15</text>
<path d="M133.8 165.6H136.8" stroke="#1e1e1e" stroke-width="0.9"/>
<text x="131.4" y="167.95" font-size="8" text-anchor="end" fill="#2a2a2a" stroke="#2a2a2a" stroke-width="0.12">20</text>
<path d="M133.8 150.5H136.8" stroke="#1e1e1e" stroke-width="0.9"/>
<text x="131.4" y="152.85" font-size="8" text-anchor="end" fill="#2a2a2a" stroke="#2a2a2a" stroke-width="0.12">25</text>
<path d="M151.35 226V228.2" stroke="#1e1e1e" stroke-width="0.9"/>
<path d="M173.05 226V228.2" stroke="#1e1e1e" stroke-width="0.9"/>
<text x="151.35" y="238.4" font-size="8.2" text-anchor="middle" fill="#2a2a2a" stroke="#2a2a2a" stroke-width="0.28">+/−</text>
<text x="173.05" y="238.4" font-size="8.2" text-anchor="middle" fill="#2a2a2a" stroke="#2a2a2a" stroke-width="0.28">−/−</text>
<text transform="translate(117.24 209.85) rotate(-90)" font-size="8.2" font-weight="normal" fill="#2a2a2a" stroke="#2a2a2a" stroke-width="0.36" textLength="20.3" lengthAdjust="spacingAndGlyphs">ST-HSC</text>
<text transform="translate(117.24 186.45) rotate(-90)" font-size="8.2" font-weight="normal" fill="#2a2a2a" stroke="#2a2a2a" stroke-width="0.36" text-anchor="middle">(</text>
<text transform="translate(116.94 182.65) rotate(-90)" font-size="7.4" fill="#2a2a2a" stroke="#2a2a2a" stroke-width="0.2" text-anchor="middle">×</text>
<text transform="translate(117.24 179.25) rotate(-90)" font-size="8.2" font-weight="normal" fill="#2a2a2a" stroke="#2a2a2a" stroke-width="0.36" textLength="14.5" lengthAdjust="spacingAndGlyphs">1000)</text>
<path d="M149 151.5H169.4" stroke="#111" stroke-width="1.05"/>
<circle cx="159.2" cy="146.8" r="1.0" fill="#0a0a0a"/>
<text x="196.5" y="139.9" font-size="11" font-weight="bold" fill="#000" stroke="#000" stroke-width="0.35">H</text>
<rect x="241" y="204" width="14.1" height="22" fill="#df786d"/>
<rect x="262.7" y="211" width="14.1" height="15" fill="#7b8abb"/>
<path d="M248.05 191.6V216.4M244.05 191.6H252.05M244.05 216.4H252.05" stroke="#353535" stroke-width="0.9" fill="none"/>
<path d="M269.75 200V222M265.75 200H273.75M265.75 222H273.75" stroke="#353535" stroke-width="0.9" fill="none"/>
<circle cx="248.5" cy="168" r="1.2" fill="#ad0f29"/>
<circle cx="248.5" cy="179.9" r="1.2" fill="#ad0f29"/>
<circle cx="248.5" cy="183.1" r="1.2" fill="#ad0f29"/>
<circle cx="248.5" cy="195.3" r="1.2" fill="#ad0f29"/>
<circle cx="244.5" cy="199.5" r="1.2" fill="#ad0f29"/>
<circle cx="248.5" cy="199.7" r="1.2" fill="#ad0f29"/>
<circle cx="252.5" cy="199.5" r="1.2" fill="#ad0f29"/>
<circle cx="246.5" cy="201.2" r="1.2" fill="#ad0f29"/>
<circle cx="252.5" cy="201.2" r="1.2" fill="#ad0f29"/>
<circle cx="248.5" cy="203.6" r="1.2" fill="#ad0f29"/>
<circle cx="244" cy="206" r="1.2" fill="#ad0f29"/>
<circle cx="248.5" cy="206" r="1.2" fill="#ad0f29"/>
<circle cx="252.5" cy="206" r="1.2" fill="#ad0f29"/>
<circle cx="242" cy="208.9" r="1.2" fill="#ad0f29"/>
<circle cx="246" cy="208.9" r="1.2" fill="#ad0f29"/>
<circle cx="250" cy="208.9" r="1.2" fill="#ad0f29"/>
<circle cx="254" cy="208.9" r="1.2" fill="#ad0f29"/>
<circle cx="244" cy="210.9" r="1.2" fill="#ad0f29"/>
<circle cx="248.5" cy="210.9" r="1.2" fill="#ad0f29"/>
<circle cx="252.5" cy="210.9" r="1.2" fill="#ad0f29"/>
<circle cx="246.5" cy="213.3" r="1.2" fill="#ad0f29"/>
<circle cx="250.5" cy="213.3" r="1.2" fill="#ad0f29"/>
<circle cx="244.5" cy="215.7" r="1.2" fill="#ad0f29"/>
<circle cx="248.5" cy="215.7" r="1.2" fill="#ad0f29"/>
<circle cx="252.5" cy="215.7" r="1.2" fill="#ad0f29"/>
<circle cx="248.5" cy="219.1" r="1.2" fill="#ad0f29"/>
<circle cx="270" cy="183.8" r="1.2" fill="#193f7e"/>
<circle cx="270" cy="199.7" r="1.2" fill="#193f7e"/>
<circle cx="270" cy="203.6" r="1.2" fill="#193f7e"/>
<circle cx="270" cy="206.5" r="1.2" fill="#193f7e"/>
<circle cx="265" cy="211.6" r="1.2" fill="#193f7e"/>
<circle cx="275.5" cy="211.6" r="1.2" fill="#193f7e"/>
<circle cx="270" cy="213.8" r="1.2" fill="#193f7e"/>
<circle cx="265" cy="217.2" r="1.2" fill="#193f7e"/>
<circle cx="275" cy="217.2" r="1.2" fill="#193f7e"/>
<circle cx="270" cy="218.2" r="1.2" fill="#193f7e"/>
<circle cx="265" cy="221.5" r="1.2" fill="#193f7e"/>
<circle cx="275" cy="221.5" r="1.2" fill="#193f7e"/>
<path d="M233.5 147.6V226M230.5 226H284" stroke="#1e1e1e" stroke-width="1.15" fill="none"/>
<path d="M230.5 226H233.5" stroke="#1e1e1e" stroke-width="0.9"/>
<text x="228.1" y="228.35" font-size="8" text-anchor="end" fill="#2a2a2a" stroke="#2a2a2a" stroke-width="0.12">0</text>
<path d="M230.5 210.9H233.5" stroke="#1e1e1e" stroke-width="0.9"/>
<text x="228.1" y="213.25" font-size="8" text-anchor="end" fill="#2a2a2a" stroke="#2a2a2a" stroke-width="0.12">5</text>
<path d="M230.5 195.8H233.5" stroke="#1e1e1e" stroke-width="0.9"/>
<text x="228.1" y="198.15" font-size="8" text-anchor="end" fill="#2a2a2a" stroke="#2a2a2a" stroke-width="0.12">10</text>
<path d="M230.5 180.7H233.5" stroke="#1e1e1e" stroke-width="0.9"/>
<text x="228.1" y="183.05" font-size="8" text-anchor="end" fill="#2a2a2a" stroke="#2a2a2a" stroke-width="0.12">15</text>
<path d="M230.5 165.6H233.5" stroke="#1e1e1e" stroke-width="0.9"/>
<text x="228.1" y="167.95" font-size="8" text-anchor="end" fill="#2a2a2a" stroke="#2a2a2a" stroke-width="0.12">20</text>
<path d="M230.5 150.5H233.5" stroke="#1e1e1e" stroke-width="0.9"/>
<text x="228.1" y="152.85" font-size="8" text-anchor="end" fill="#2a2a2a" stroke="#2a2a2a" stroke-width="0.12">25</text>
<path d="M248.05 226V228.2" stroke="#1e1e1e" stroke-width="0.9"/>
<path d="M269.75 226V228.2" stroke="#1e1e1e" stroke-width="0.9"/>
<text x="248.05" y="238.4" font-size="8.2" text-anchor="middle" fill="#2a2a2a" stroke="#2a2a2a" stroke-width="0.28">+/−</text>
<text x="269.75" y="238.4" font-size="8.2" text-anchor="middle" fill="#2a2a2a" stroke="#2a2a2a" stroke-width="0.28">−/−</text>
<text transform="translate(213.94 207.35) rotate(-90)" font-size="8.2" font-weight="normal" fill="#2a2a2a" stroke="#2a2a2a" stroke-width="0.36" textLength="15.3" lengthAdjust="spacingAndGlyphs">MPP2</text>
<text transform="translate(213.94 188.95) rotate(-90)" font-size="8.2" font-weight="normal" fill="#2a2a2a" stroke="#2a2a2a" stroke-width="0.36" text-anchor="middle">(</text>
<text transform="translate(213.64 185.15) rotate(-90)" font-size="7.4" fill="#2a2a2a" stroke="#2a2a2a" stroke-width="0.2" text-anchor="middle">×</text>
<text transform="translate(213.94 181.75) rotate(-90)" font-size="8.2" font-weight="normal" fill="#2a2a2a" stroke="#2a2a2a" stroke-width="0.36" textLength="14.5" lengthAdjust="spacingAndGlyphs">1000)</text>
<path d="M249 151.5H269.6" stroke="#111" stroke-width="1.05"/>
<text x="259.3" y="148" font-size="7.2" text-anchor="middle" fill="#2a2a2a" stroke="#2a2a2a" stroke-width="0.25">N.S.</text>
<text x="293.6" y="139.9" font-size="11" font-weight="bold" fill="#000" stroke="#000" stroke-width="0.35">I</text>
<rect x="336" y="194.4" width="14.1" height="31.6" fill="#df786d"/>
<rect x="357.7" y="211.6" width="14.1" height="14.4" fill="#7b8abb"/>
<path d="M343.05 178.4V210.4M339.05 178.4H347.05M339.05 210.4H347.05" stroke="#353535" stroke-width="0.9" fill="none"/>
<path d="M364.75 204.6V218.6M360.75 204.6H368.75M360.75 218.6H368.75" stroke="#353535" stroke-width="0.9" fill="none"/>
<circle cx="343.5" cy="159.7" r="1.2" fill="#ad0f29"/>
<circle cx="343.3" cy="164.3" r="1.2" fill="#ad0f29"/>
<circle cx="343.5" cy="172" r="1.2" fill="#ad0f29"/>
<circle cx="341.5" cy="174.7" r="1.2" fill="#ad0f29"/>
<circle cx="345" cy="174.7" r="1.2" fill="#ad0f29"/>
<circle cx="343.5" cy="183" r="1.2" fill="#ad0f29"/>
<circle cx="343.5" cy="186.9" r="1.2" fill="#ad0f29"/>
<circle cx="340" cy="189.3" r="1.2" fill="#ad0f29"/>
<circle cx="346.5" cy="189.2" r="1.2" fill="#ad0f29"/>
<circle cx="346.5" cy="191.3" r="1.2" fill="#ad0f29"/>
<circle cx="340" cy="193.6" r="1.2" fill="#ad0f29"/>
<circle cx="346.5" cy="193.6" r="1.2" fill="#ad0f29"/>
<circle cx="343.5" cy="196.2" r="1.2" fill="#ad0f29"/>
<circle cx="340" cy="200.6" r="1.2" fill="#ad0f29"/>
<circle cx="346.5" cy="199.1" r="1.2" fill="#ad0f29"/>
<circle cx="336.5" cy="208.5" r="1.2" fill="#ad0f29"/>
<circle cx="340" cy="208.5" r="1.2" fill="#ad0f29"/>
<circle cx="343.5" cy="208.5" r="1.2" fill="#ad0f29"/>
<circle cx="346.5" cy="209.3" r="1.2" fill="#ad0f29"/>
<circle cx="349.5" cy="208.5" r="1.2" fill="#ad0f29"/>
<circle cx="343.5" cy="212.2" r="1.2" fill="#ad0f29"/>
<circle cx="343.5" cy="214.6" r="1.2" fill="#ad0f29"/>
<circle cx="343.5" cy="219.5" r="1.2" fill="#ad0f29"/>
<circle cx="359.2" cy="203.7" r="1.2" fill="#193f7e"/>
<circle cx="371.8" cy="203.7" r="1.2" fill="#193f7e"/>
<circle cx="363" cy="204" r="1.2" fill="#193f7e"/>
<circle cx="368" cy="204" r="1.2" fill="#193f7e"/>
<circle cx="363" cy="207.4" r="1.2" fill="#193f7e"/>
<circle cx="368" cy="209.3" r="1.2" fill="#193f7e"/>
<circle cx="359.5" cy="211.7" r="1.2" fill="#193f7e"/>
<circle cx="365.5" cy="211.7" r="1.2" fill="#193f7e"/>
<circle cx="365.5" cy="213.6" r="1.2" fill="#193f7e"/>
<circle cx="361.5" cy="214" r="1.2" fill="#193f7e"/>
<circle cx="365.5" cy="217" r="1.2" fill="#193f7e"/>
<circle cx="369" cy="217" r="1.2" fill="#193f7e"/>
<circle cx="361.5" cy="218" r="1.2" fill="#193f7e"/>
<circle cx="365.5" cy="219.5" r="1.2" fill="#193f7e"/>
<path d="M328.5 145.2V226M325.5 226H379" stroke="#1e1e1e" stroke-width="1.15" fill="none"/>
<path d="M325.5 226H328.5" stroke="#1e1e1e" stroke-width="0.9"/>
<text x="323.1" y="228.35" font-size="8" text-anchor="end" fill="#2a2a2a" stroke="#2a2a2a" stroke-width="0.12">0</text>
<path d="M325.5 200.03H328.5" stroke="#1e1e1e" stroke-width="0.9"/>
<text x="323.1" y="202.38" font-size="8" text-anchor="end" fill="#2a2a2a" stroke="#2a2a2a" stroke-width="0.12">2</text>
<path d="M325.5 174.07H328.5" stroke="#1e1e1e" stroke-width="0.9"/>
<text x="323.1" y="176.42" font-size="8" text-anchor="end" fill="#2a2a2a" stroke="#2a2a2a" stroke-width="0.12">4</text>
<path d="M325.5 148.1H328.5" stroke="#1e1e1e" stroke-width="0.9"/>
<text x="323.1" y="150.45" font-size="8" text-anchor="end" fill="#2a2a2a" stroke="#2a2a2a" stroke-width="0.12">6</text>
<path d="M343.05 226V228.2" stroke="#1e1e1e" stroke-width="0.9"/>
<path d="M364.75 226V228.2" stroke="#1e1e1e" stroke-width="0.9"/>
<text x="343.05" y="238.4" font-size="8.2" text-anchor="middle" fill="#2a2a2a" stroke="#2a2a2a" stroke-width="0.28">+/−</text>
<text x="364.75" y="238.4" font-size="8.2" text-anchor="middle" fill="#2a2a2a" stroke="#2a2a2a" stroke-width="0.28">−/−</text>
<text transform="translate(313.17 207.35) rotate(-90)" font-size="8.2" font-weight="normal" fill="#2a2a2a" stroke="#2a2a2a" stroke-width="0.36" textLength="15.3" lengthAdjust="spacingAndGlyphs">MPP3</text>
<text transform="translate(313.17 188.95) rotate(-90)" font-size="8.2" font-weight="normal" fill="#2a2a2a" stroke="#2a2a2a" stroke-width="0.36" text-anchor="middle">(</text>
<text transform="translate(312.87 185.15) rotate(-90)" font-size="7.4" fill="#2a2a2a" stroke="#2a2a2a" stroke-width="0.2" text-anchor="middle">×</text>
<text transform="translate(313.17 181.75) rotate(-90)" font-size="8.2" font-weight="normal" fill="#2a2a2a" stroke="#2a2a2a" stroke-width="0.36" textLength="14.5" lengthAdjust="spacingAndGlyphs">1000)</text>
<path d="M344 150.5H365" stroke="#111" stroke-width="1.05"/>
<circle cx="351.4" cy="145.8" r="1.0" fill="#0a0a0a"/>
<circle cx="354.5" cy="145.8" r="1.0" fill="#0a0a0a"/>
<circle cx="357.6" cy="145.8" r="1.0" fill="#0a0a0a"/>
<text x="389" y="139.9" font-size="11" font-weight="bold" fill="#000" stroke="#000" stroke-width="0.35">J</text>
<rect x="437.1" y="193" width="14.1" height="33" fill="#df786d"/>
<rect x="458.8" y="209.6" width="14.1" height="16.4" fill="#7b8abb"/>
<path d="M444.15 183.6V202.4M440.15 183.6H448.15M440.15 202.4H448.15" stroke="#353535" stroke-width="0.9" fill="none"/>
<path d="M465.85 202.4V216.8M461.85 202.4H469.85M461.85 216.8H469.85" stroke="#353535" stroke-width="0.9" fill="none"/>
<circle cx="444" cy="163.8" r="1.2" fill="#ad0f29"/>
<circle cx="444" cy="176.9" r="1.2" fill="#ad0f29"/>
<circle cx="443.2" cy="181" r="1.2" fill="#ad0f29"/>
<circle cx="443.5" cy="185.5" r="1.2" fill="#ad0f29"/>
<circle cx="440.9" cy="189.2" r="1.2" fill="#ad0f29"/>
<circle cx="443.5" cy="188.3" r="1.2" fill="#ad0f29"/>
<circle cx="447.8" cy="189.2" r="1.2" fill="#ad0f29"/>
<circle cx="443.5" cy="191" r="1.2" fill="#ad0f29"/>
<circle cx="437.7" cy="193.8" r="1.2" fill="#ad0f29"/>
<circle cx="440.4" cy="193.8" r="1.2" fill="#ad0f29"/>
<circle cx="443.2" cy="193.8" r="1.2" fill="#ad0f29"/>
<circle cx="445.5" cy="193.8" r="1.2" fill="#ad0f29"/>
<circle cx="447.8" cy="193.8" r="1.2" fill="#ad0f29"/>
<circle cx="450.3" cy="193.8" r="1.2" fill="#ad0f29"/>
<circle cx="437.7" cy="196.5" r="1.2" fill="#ad0f29"/>
<circle cx="440.4" cy="196.5" r="1.2" fill="#ad0f29"/>
<circle cx="443.5" cy="196.5" r="1.2" fill="#ad0f29"/>
<circle cx="447.8" cy="196.5" r="1.2" fill="#ad0f29"/>
<circle cx="450.3" cy="196.5" r="1.2" fill="#ad0f29"/>
<circle cx="443.5" cy="199.7" r="1.2" fill="#ad0f29"/>
<circle cx="440.4" cy="202" r="1.2" fill="#ad0f29"/>
<circle cx="443.5" cy="202" r="1.2" fill="#ad0f29"/>
<circle cx="447" cy="202" r="1.2" fill="#ad0f29"/>
<circle cx="441.5" cy="204.8" r="1.2" fill="#ad0f29"/>
<circle cx="445.5" cy="204.8" r="1.2" fill="#ad0f29"/>
<circle cx="443.5" cy="212.1" r="1.2" fill="#ad0f29"/>
<circle cx="466" cy="195.3" r="1.2" fill="#193f7e"/>
<circle cx="461" cy="204.2" r="1.2" fill="#193f7e"/>
<circle cx="471" cy="204" r="1.2" fill="#193f7e"/>
<circle cx="466" cy="204.6" r="1.2" fill="#193f7e"/>
<circle cx="461" cy="208.9" r="1.2" fill="#193f7e"/>
<circle cx="466" cy="208.9" r="1.2" fill="#193f7e"/>
<circle cx="471" cy="208.9" r="1.2" fill="#193f7e"/>
<circle cx="463" cy="215.4" r="1.2" fill="#193f7e"/>
<circle cx="468.5" cy="214.2" r="1.2" fill="#193f7e"/>
<circle cx="466" cy="217.2" r="1.2" fill="#193f7e"/>
<circle cx="466" cy="222.6" r="1.2" fill="#193f7e"/>
<path d="M429.6 147.6V226M426.6 226H480.1" stroke="#1e1e1e" stroke-width="1.15" fill="none"/>
<path d="M426.6 226H429.6" stroke="#1e1e1e" stroke-width="0.9"/>
<text x="424.2" y="228.35" font-size="8" text-anchor="end" fill="#2a2a2a" stroke="#2a2a2a" stroke-width="0.12">0</text>
<path d="M426.6 200.83H429.6" stroke="#1e1e1e" stroke-width="0.9"/>
<text x="424.2" y="203.18" font-size="8" text-anchor="end" fill="#2a2a2a" stroke="#2a2a2a" stroke-width="0.12">40</text>
<path d="M426.6 175.67H429.6" stroke="#1e1e1e" stroke-width="0.9"/>
<text x="424.2" y="178.02" font-size="8" text-anchor="end" fill="#2a2a2a" stroke="#2a2a2a" stroke-width="0.12">80</text>
<path d="M426.6 150.5H429.6" stroke="#1e1e1e" stroke-width="0.9"/>
<text x="424.2" y="152.85" font-size="8" text-anchor="end" fill="#2a2a2a" stroke="#2a2a2a" stroke-width="0.12">120</text>
<path d="M444.15 226V228.2" stroke="#1e1e1e" stroke-width="0.9"/>
<path d="M465.85 226V228.2" stroke="#1e1e1e" stroke-width="0.9"/>
<text x="444.15" y="238.4" font-size="8.2" text-anchor="middle" fill="#2a2a2a" stroke="#2a2a2a" stroke-width="0.28">+/−</text>
<text x="465.85" y="238.4" font-size="8.2" text-anchor="middle" fill="#2a2a2a" stroke="#2a2a2a" stroke-width="0.28">−/−</text>
<text transform="translate(405.81 207.35) rotate(-90)" font-size="8.2" font-weight="normal" fill="#2a2a2a" stroke="#2a2a2a" stroke-width="0.36" textLength="15.3" lengthAdjust="spacingAndGlyphs">MPP4</text>
<text transform="translate(405.81 188.95) rotate(-90)" font-size="8.2" font-weight="normal" fill="#2a2a2a" stroke="#2a2a2a" stroke-width="0.36" text-anchor="middle">(</text>
<text transform="translate(405.51 185.15) rotate(-90)" font-size="7.4" fill="#2a2a2a" stroke="#2a2a2a" stroke-width="0.2" text-anchor="middle">×</text>
<text transform="translate(405.81 181.75) rotate(-90)" font-size="8.2" font-weight="normal" fill="#2a2a2a" stroke="#2a2a2a" stroke-width="0.36" textLength="14.5" lengthAdjust="spacingAndGlyphs">1000)</text>
<path d="M441.4 151.5H462" stroke="#111" stroke-width="1.05"/>
<circle cx="448.6" cy="146.8" r="1.0" fill="#0a0a0a"/>
<circle cx="451.7" cy="146.8" r="1.0" fill="#0a0a0a"/>
<circle cx="454.8" cy="146.8" r="1.0" fill="#0a0a0a"/>
<text x="6.5" y="264.5" font-size="11" font-weight="bold" fill="#000" stroke="#000" stroke-width="0.35">K</text>
<rect x="49" y="297" width="14.1" height="53.7" fill="#df786d"/>
<rect x="70.7" y="308.4" width="14.1" height="42.3" fill="#7b8abb"/>
<path d="M56.05 286.6V307M52.05 286.6H60.05M52.05 307H60.05" stroke="#353535" stroke-width="0.9" fill="none"/>
<path d="M77.75 296V319.6M73.75 296H81.75M73.75 319.6H81.75" stroke="#353535" stroke-width="0.9" fill="none"/>
<circle cx="55.9" cy="283" r="1.2" fill="#ad0f29"/>
<circle cx="55.9" cy="293.5" r="1.2" fill="#ad0f29"/>
<circle cx="53" cy="297.9" r="1.2" fill="#ad0f29"/>
<circle cx="58.4" cy="298.2" r="1.2" fill="#ad0f29"/>
<circle cx="55.9" cy="312.2" r="1.2" fill="#ad0f29"/>
<circle cx="77.7" cy="295.7" r="1.2" fill="#193f7e"/>
<circle cx="77.7" cy="300" r="1.2" fill="#193f7e"/>
<circle cx="77.7" cy="305.9" r="1.2" fill="#193f7e"/>
<circle cx="77.7" cy="313.9" r="1.2" fill="#193f7e"/>
<circle cx="77.7" cy="325.3" r="1.2" fill="#193f7e"/>
<path d="M41.5 272.3V350.7M38.5 350.7H92" stroke="#1e1e1e" stroke-width="1.15" fill="none"/>
<path d="M38.5 350.7H41.5" stroke="#1e1e1e" stroke-width="0.9"/>
<text x="36.1" y="353.05" font-size="8" text-anchor="end" fill="#2a2a2a" stroke="#2a2a2a" stroke-width="0.12">0</text>
<path d="M38.5 335.6H41.5" stroke="#1e1e1e" stroke-width="0.9"/>
<text x="36.1" y="337.95" font-size="8" text-anchor="end" fill="#2a2a2a" stroke="#2a2a2a" stroke-width="0.12">5</text>
<path d="M38.5 320.5H41.5" stroke="#1e1e1e" stroke-width="0.9"/>
<text x="36.1" y="322.85" font-size="8" text-anchor="end" fill="#2a2a2a" stroke="#2a2a2a" stroke-width="0.12">10</text>
<path d="M38.5 305.4H41.5" stroke="#1e1e1e" stroke-width="0.9"/>
<text x="36.1" y="307.75" font-size="8" text-anchor="end" fill="#2a2a2a" stroke="#2a2a2a" stroke-width="0.12">15</text>
<path d="M38.5 290.3H41.5" stroke="#1e1e1e" stroke-width="0.9"/>
<text x="36.1" y="292.65" font-size="8" text-anchor="end" fill="#2a2a2a" stroke="#2a2a2a" stroke-width="0.12">20</text>
<path d="M38.5 275.2H41.5" stroke="#1e1e1e" stroke-width="0.9"/>
<text x="36.1" y="277.55" font-size="8" text-anchor="end" fill="#2a2a2a" stroke="#2a2a2a" stroke-width="0.12">25</text>
<path d="M56.05 350.7V352.9" stroke="#1e1e1e" stroke-width="0.9"/>
<path d="M77.75 350.7V352.9" stroke="#1e1e1e" stroke-width="0.9"/>
<text x="56.05" y="363.7" font-size="8.2" text-anchor="middle" fill="#2a2a2a" stroke="#2a2a2a" stroke-width="0.28">+/+</text>
<text x="77.75" y="363.7" font-size="8.8" font-family="Liberation Serif" text-anchor="middle" textLength="11.6" lengthAdjust="spacingAndGlyphs" fill="#2a2a2a">Δ/Δ</text>
<text transform="translate(21.94 334.1) rotate(-90)" font-size="8.2" font-weight="normal" fill="#2a2a2a" stroke="#2a2a2a" stroke-width="0.36" textLength="19.4" lengthAdjust="spacingAndGlyphs">LT-HSC</text>
<text transform="translate(21.94 311.6) rotate(-90)" font-size="8.2" font-weight="normal" fill="#2a2a2a" stroke="#2a2a2a" stroke-width="0.36" text-anchor="middle">(</text>
<text transform="translate(21.64 307.8) rotate(-90)" font-size="7.4" fill="#2a2a2a" stroke="#2a2a2a" stroke-width="0.2" text-anchor="middle">×</text>
<text transform="translate(21.94 304.4) rotate(-90)" font-size="8.2" font-weight="normal" fill="#2a2a2a" stroke="#2a2a2a" stroke-width="0.36" textLength="14.5" lengthAdjust="spacingAndGlyphs">1000)</text>
<text x="101.5" y="264.5" font-size="11" font-weight="bold" fill="#000" stroke="#000" stroke-width="0.35">L</text>
<rect x="144.3" y="304.4" width="14.1" height="46.3" fill="#df786d"/>
<rect x="166" y="316" width="14.1" height="34.7" fill="#7b8abb"/>
<path d="M151.35 289.4V318.4M147.35 289.4H155.35M147.35 318.4H155.35" stroke="#353535" stroke-width="0.9" fill="none"/>
<path d="M173.05 304V327.4M169.05 304H177.05M169.05 327.4H177.05" stroke="#353535" stroke-width="0.9" fill="none"/>
<circle cx="151" cy="286.1" r="1.2" fill="#ad0f29"/>
<circle cx="151" cy="292.6" r="1.2" fill="#ad0f29"/>
<circle cx="148.3" cy="318.3" r="1.2" fill="#ad0f29"/>
<circle cx="151" cy="317.5" r="1.2" fill="#ad0f29"/>
<circle cx="153.5" cy="318.3" r="1.2" fill="#ad0f29"/>
<circle cx="173" cy="303.9" r="1.2" fill="#193f7e"/>
<circle cx="173" cy="307.2" r="1.2" fill="#193f7e"/>
<circle cx="173" cy="313.7" r="1.2" fill="#193f7e"/>
<circle cx="173" cy="319.6" r="1.2" fill="#193f7e"/>
<circle cx="173" cy="332.1" r="1.2" fill="#193f7e"/>
<path d="M136.8 272.3V350.7M133.8 350.7H187.3" stroke="#1e1e1e" stroke-width="1.15" fill="none"/>
<path d="M133.8 350.7H136.8" stroke="#1e1e1e" stroke-width="0.9"/>
<text x="131.4" y="353.05" font-size="8" text-anchor="end" fill="#2a2a2a" stroke="#2a2a2a" stroke-width="0.12">0</text>
<path d="M133.8 331.82H136.8" stroke="#1e1e1e" stroke-width="0.9"/>
<text x="131.4" y="334.18" font-size="8" text-anchor="end" fill="#2a2a2a" stroke="#2a2a2a" stroke-width="0.12">10</text>
<path d="M133.8 312.95H136.8" stroke="#1e1e1e" stroke-width="0.9"/>
<text x="131.4" y="315.3" font-size="8" text-anchor="end" fill="#2a2a2a" stroke="#2a2a2a" stroke-width="0.12">20</text>
<path d="M133.8 294.07H136.8" stroke="#1e1e1e" stroke-width="0.9"/>
<text x="131.4" y="296.43" font-size="8" text-anchor="end" fill="#2a2a2a" stroke="#2a2a2a" stroke-width="0.12">30</text>
<path d="M133.8 275.2H136.8" stroke="#1e1e1e" stroke-width="0.9"/>
<text x="131.4" y="277.55" font-size="8" text-anchor="end" fill="#2a2a2a" stroke="#2a2a2a" stroke-width="0.12">40</text>
<path d="M151.35 350.7V352.9" stroke="#1e1e1e" stroke-width="0.9"/>
<path d="M173.05 350.7V352.9" stroke="#1e1e1e" stroke-width="0.9"/>
<text x="151.35" y="363.7" font-size="8.2" text-anchor="middle" fill="#2a2a2a" stroke="#2a2a2a" stroke-width="0.28">+/+</text>
<text x="173.05" y="363.7" font-size="8.8" font-family="Liberation Serif" text-anchor="middle" textLength="11.6" lengthAdjust="spacingAndGlyphs" fill="#2a2a2a">Δ/Δ</text>
<text transform="translate(117.24 334.55) rotate(-90)" font-size="8.2" font-weight="normal" fill="#2a2a2a" stroke="#2a2a2a" stroke-width="0.36" textLength="20.3" lengthAdjust="spacingAndGlyphs">ST-HSC</text>
<text transform="translate(117.24 311.15) rotate(-90)" font-size="8.2" font-weight="normal" fill="#2a2a2a" stroke="#2a2a2a" stroke-width="0.36" text-anchor="middle">(</text>
<text transform="translate(116.94 307.35) rotate(-90)" font-size="7.4" fill="#2a2a2a" stroke="#2a2a2a" stroke-width="0.2" text-anchor="middle">×</text>
<text transform="translate(117.24 303.95) rotate(-90)" font-size="8.2" font-weight="normal" fill="#2a2a2a" stroke="#2a2a2a" stroke-width="0.36" textLength="14.5" lengthAdjust="spacingAndGlyphs">1000)</text>
<text x="196.5" y="264.5" font-size="11" font-weight="bold" fill="#000" stroke="#000" stroke-width="0.35">M</text>
<rect x="241" y="301.4" width="14.1" height="49.3" fill="#df786d"/>
<rect x="262.7" y="331" width="14.1" height="19.7" fill="#7b8abb"/>
<path d="M248.05 286.6V315M244.05 286.6H252.05M244.05 315H252.05" stroke="#353535" stroke-width="0.9" fill="none"/>
<path d="M269.75 324.4V336.4M265.75 324.4H273.75M265.75 336.4H273.75" stroke="#353535" stroke-width="0.9" fill="none"/>
<circle cx="248" cy="287" r="1.2" fill="#ad0f29"/>
<circle cx="248" cy="290" r="1.2" fill="#ad0f29"/>
<circle cx="248" cy="294.2" r="1.2" fill="#ad0f29"/>
<circle cx="248" cy="321.7" r="1.2" fill="#ad0f29"/>
<circle cx="269.7" cy="321.3" r="1.2" fill="#193f7e"/>
<circle cx="269.7" cy="328.5" r="1.2" fill="#193f7e"/>
<circle cx="266.5" cy="330.5" r="1.2" fill="#193f7e"/>
<circle cx="272.5" cy="330.5" r="1.2" fill="#193f7e"/>
<path d="M233.5 272.3V350.7M230.5 350.7H284" stroke="#1e1e1e" stroke-width="1.15" fill="none"/>
<path d="M230.5 350.7H233.5" stroke="#1e1e1e" stroke-width="0.9"/>
<text x="228.1" y="353.05" font-size="8" text-anchor="end" fill="#2a2a2a" stroke="#2a2a2a" stroke-width="0.12">0</text>
<path d="M230.5 335.6H233.5" stroke="#1e1e1e" stroke-width="0.9"/>
<text x="228.1" y="337.95" font-size="8" text-anchor="end" fill="#2a2a2a" stroke="#2a2a2a" stroke-width="0.12">5</text>
<path d="M230.5 320.5H233.5" stroke="#1e1e1e" stroke-width="0.9"/>
<text x="228.1" y="322.85" font-size="8" text-anchor="end" fill="#2a2a2a" stroke="#2a2a2a" stroke-width="0.12">10</text>
<path d="M230.5 305.4H233.5" stroke="#1e1e1e" stroke-width="0.9"/>
<text x="228.1" y="307.75" font-size="8" text-anchor="end" fill="#2a2a2a" stroke="#2a2a2a" stroke-width="0.12">15</text>
<path d="M230.5 290.3H233.5" stroke="#1e1e1e" stroke-width="0.9"/>
<text x="228.1" y="292.65" font-size="8" text-anchor="end" fill="#2a2a2a" stroke="#2a2a2a" stroke-width="0.12">20</text>
<path d="M230.5 275.2H233.5" stroke="#1e1e1e" stroke-width="0.9"/>
<text x="228.1" y="277.55" font-size="8" text-anchor="end" fill="#2a2a2a" stroke="#2a2a2a" stroke-width="0.12">25</text>
<path d="M248.05 350.7V352.9" stroke="#1e1e1e" stroke-width="0.9"/>
<path d="M269.75 350.7V352.9" stroke="#1e1e1e" stroke-width="0.9"/>
<text x="248.05" y="363.7" font-size="8.2" text-anchor="middle" fill="#2a2a2a" stroke="#2a2a2a" stroke-width="0.28">+/+</text>
<text x="269.75" y="363.7" font-size="8.8" font-family="Liberation Serif" text-anchor="middle" textLength="11.6" lengthAdjust="spacingAndGlyphs" fill="#2a2a2a">Δ/Δ</text>
<text transform="translate(213.94 332.05) rotate(-90)" font-size="8.2" font-weight="normal" fill="#2a2a2a" stroke="#2a2a2a" stroke-width="0.36" textLength="15.3" lengthAdjust="spacingAndGlyphs">MPP2</text>
<text transform="translate(213.94 313.65) rotate(-90)" font-size="8.2" font-weight="normal" fill="#2a2a2a" stroke="#2a2a2a" stroke-width="0.36" text-anchor="middle">(</text>
<text transform="translate(213.64 309.85) rotate(-90)" font-size="7.4" fill="#2a2a2a" stroke="#2a2a2a" stroke-width="0.2" text-anchor="middle">×</text>
<text transform="translate(213.94 306.45) rotate(-90)" font-size="8.2" font-weight="normal" fill="#2a2a2a" stroke="#2a2a2a" stroke-width="0.36" textLength="14.5" lengthAdjust="spacingAndGlyphs">1000)</text>
<path d="M248.4 276.5H269.6" stroke="#111" stroke-width="1.05"/>
<circle cx="257.45" cy="272.2" r="1.0" fill="#0a0a0a"/>
<circle cx="260.55" cy="272.2" r="1.0" fill="#0a0a0a"/>
<text x="293.6" y="264.5" font-size="11" font-weight="bold" fill="#000" stroke="#000" stroke-width="0.35">N</text>
<rect x="336" y="313" width="14.1" height="37.7" fill="#df786d"/>
<rect x="357.7" y="339" width="14.1" height="11.7" fill="#7b8abb"/>
<path d="M343.05 298.5V327.4M339.05 298.5H347.05M339.05 327.4H347.05" stroke="#353535" stroke-width="0.9" fill="none"/>
<path d="M364.75 335V343M360.75 335H368.75M360.75 343H368.75" stroke="#353535" stroke-width="0.9" fill="none"/>
<circle cx="343" cy="293.3" r="1.2" fill="#ad0f29"/>
<circle cx="343" cy="301.4" r="1.2" fill="#ad0f29"/>
<circle cx="338.1" cy="324" r="1.2" fill="#ad0f29"/>
<circle cx="343" cy="324" r="1.2" fill="#ad0f29"/>
<circle cx="347.7" cy="324" r="1.2" fill="#ad0f29"/>
<circle cx="363" cy="334.6" r="1.2" fill="#193f7e"/>
<circle cx="367" cy="334" r="1.2" fill="#193f7e"/>
<circle cx="365" cy="336.5" r="1.2" fill="#193f7e"/>
<circle cx="363" cy="338.5" r="1.2" fill="#193f7e"/>
<circle cx="367" cy="338.5" r="1.2" fill="#193f7e"/>
<path d="M328.5 272.3V350.7M325.5 350.7H379" stroke="#1e1e1e" stroke-width="1.15" fill="none"/>
<path d="M325.5 350.7H328.5" stroke="#1e1e1e" stroke-width="0.9"/>
<text x="323.1" y="353.05" font-size="8" text-anchor="end" fill="#2a2a2a" stroke="#2a2a2a" stroke-width="0.12">0</text>
<path d="M325.5 331.82H328.5" stroke="#1e1e1e" stroke-width="0.9"/>
<text x="323.1" y="334.18" font-size="8" text-anchor="end" fill="#2a2a2a" stroke="#2a2a2a" stroke-width="0.12">2</text>
<path d="M325.5 312.95H328.5" stroke="#1e1e1e" stroke-width="0.9"/>
<text x="323.1" y="315.3" font-size="8" text-anchor="end" fill="#2a2a2a" stroke="#2a2a2a" stroke-width="0.12">4</text>
<path d="M325.5 294.07H328.5" stroke="#1e1e1e" stroke-width="0.9"/>
<text x="323.1" y="296.43" font-size="8" text-anchor="end" fill="#2a2a2a" stroke="#2a2a2a" stroke-width="0.12">6</text>
<path d="M325.5 275.2H328.5" stroke="#1e1e1e" stroke-width="0.9"/>
<text x="323.1" y="277.55" font-size="8" text-anchor="end" fill="#2a2a2a" stroke="#2a2a2a" stroke-width="0.12">8</text>
<path d="M343.05 350.7V352.9" stroke="#1e1e1e" stroke-width="0.9"/>
<path d="M364.75 350.7V352.9" stroke="#1e1e1e" stroke-width="0.9"/>
<text x="343.05" y="363.7" font-size="8.2" text-anchor="middle" fill="#2a2a2a" stroke="#2a2a2a" stroke-width="0.28">+/+</text>
<text x="364.75" y="363.7" font-size="8.8" font-family="Liberation Serif" text-anchor="middle" textLength="11.6" lengthAdjust="spacingAndGlyphs" fill="#2a2a2a">Δ/Δ</text>
<text transform="translate(313.17 332.05) rotate(-90)" font-size="8.2" font-weight="normal" fill="#2a2a2a" stroke="#2a2a2a" stroke-width="0.36" textLength="15.3" lengthAdjust="spacingAndGlyphs">MPP3</text>
<text transform="translate(313.17 313.65) rotate(-90)" font-size="8.2" font-weight="normal" fill="#2a2a2a" stroke="#2a2a2a" stroke-width="0.36" text-anchor="middle">(</text>
<text transform="translate(312.87 309.85) rotate(-90)" font-size="7.4" fill="#2a2a2a" stroke="#2a2a2a" stroke-width="0.2" text-anchor="middle">×</text>
<text transform="translate(313.17 306.45) rotate(-90)" font-size="8.2" font-weight="normal" fill="#2a2a2a" stroke="#2a2a2a" stroke-width="0.36" textLength="14.5" lengthAdjust="spacingAndGlyphs">1000)</text>
<path d="M345.6 273.5H366" stroke="#111" stroke-width="1.05"/>
<circle cx="354.25" cy="268.8" r="1.0" fill="#0a0a0a"/>
<circle cx="357.35" cy="268.8" r="1.0" fill="#0a0a0a"/>
<text x="389" y="264.5" font-size="11" font-weight="bold" fill="#000" stroke="#000" stroke-width="0.35">O</text>
<rect x="437.1" y="305" width="14.1" height="45.7" fill="#df786d"/>
<rect x="458.8" y="335.6" width="14.1" height="15.1" fill="#7b8abb"/>
<path d="M444.15 287V322.6M440.15 287H448.15M440.15 322.6H448.15" stroke="#353535" stroke-width="0.9" fill="none"/>
<path d="M465.85 331.4V339.8M461.85 331.4H469.85M461.85 339.8H469.85" stroke="#353535" stroke-width="0.9" fill="none"/>
<circle cx="443.9" cy="282.6" r="1.2" fill="#ad0f29"/>
<circle cx="439" cy="317.9" r="1.2" fill="#ad0f29"/>
<circle cx="443.9" cy="317.9" r="1.2" fill="#ad0f29"/>
<circle cx="449" cy="317.9" r="1.2" fill="#ad0f29"/>
<circle cx="466" cy="330.5" r="1.2" fill="#193f7e"/>
<circle cx="460.9" cy="334.5" r="1.2" fill="#193f7e"/>
<circle cx="470.4" cy="334.5" r="1.2" fill="#193f7e"/>
<circle cx="466" cy="335.4" r="1.2" fill="#193f7e"/>
<circle cx="466" cy="341.1" r="1.2" fill="#193f7e"/>
<path d="M429.6 272.3V350.7M426.6 350.7H480.1" stroke="#1e1e1e" stroke-width="1.15" fill="none"/>
<path d="M426.6 350.7H429.6" stroke="#1e1e1e" stroke-width="0.9"/>
<text x="424.2" y="353.05" font-size="8" text-anchor="end" fill="#2a2a2a" stroke="#2a2a2a" stroke-width="0.12">0</text>
<path d="M426.6 331.82H429.6" stroke="#1e1e1e" stroke-width="0.9"/>
<text x="424.2" y="334.18" font-size="8" text-anchor="end" fill="#2a2a2a" stroke="#2a2a2a" stroke-width="0.12">50</text>
<path d="M426.6 312.95H429.6" stroke="#1e1e1e" stroke-width="0.9"/>
<text x="424.2" y="315.3" font-size="8" text-anchor="end" fill="#2a2a2a" stroke="#2a2a2a" stroke-width="0.12">100</text>
<path d="M426.6 294.07H429.6" stroke="#1e1e1e" stroke-width="0.9"/>
<text x="424.2" y="296.43" font-size="8" text-anchor="end" fill="#2a2a2a" stroke="#2a2a2a" stroke-width="0.12">150</text>
<path d="M426.6 275.2H429.6" stroke="#1e1e1e" stroke-width="0.9"/>
<text x="424.2" y="277.55" font-size="8" text-anchor="end" fill="#2a2a2a" stroke="#2a2a2a" stroke-width="0.12">200</text>
<path d="M444.15 350.7V352.9" stroke="#1e1e1e" stroke-width="0.9"/>
<path d="M465.85 350.7V352.9" stroke="#1e1e1e" stroke-width="0.9"/>
<text x="444.15" y="363.7" font-size="8.2" text-anchor="middle" fill="#2a2a2a" stroke="#2a2a2a" stroke-width="0.28">+/+</text>
<text x="465.85" y="363.7" font-size="8.8" font-family="Liberation Serif" text-anchor="middle" textLength="11.6" lengthAdjust="spacingAndGlyphs" fill="#2a2a2a">Δ/Δ</text>
<text transform="translate(405.81 332.05) rotate(-90)" font-size="8.2" font-weight="normal" fill="#2a2a2a" stroke="#2a2a2a" stroke-width="0.36" textLength="15.3" lengthAdjust="spacingAndGlyphs">MPP4</text>
<text transform="translate(405.81 313.65) rotate(-90)" font-size="8.2" font-weight="normal" fill="#2a2a2a" stroke="#2a2a2a" stroke-width="0.36" text-anchor="middle">(</text>
<text transform="translate(405.51 309.85) rotate(-90)" font-size="7.4" fill="#2a2a2a" stroke="#2a2a2a" stroke-width="0.2" text-anchor="middle">×</text>
<text transform="translate(405.81 306.45) rotate(-90)" font-size="8.2" font-weight="normal" fill="#2a2a2a" stroke="#2a2a2a" stroke-width="0.36" textLength="14.5" lengthAdjust="spacingAndGlyphs">1000)</text>
<path d="M441.4 276.5H462.4" stroke="#111" stroke-width="1.05"/>
<circle cx="450.35" cy="272.2" r="1.0" fill="#0a0a0a"/>
<circle cx="453.45" cy="272.2" r="1.0" fill="#0a0a0a"/>
<path d="M494.2 25V101.3" stroke="#333" stroke-width="1"/>
<text x="497.5" y="64.75" font-size="7.5" fill="#2a2a2a" stroke="#2a2a2a" stroke-width="0.22">P0</text>
<path d="M494.2 149.7V226" stroke="#333" stroke-width="1"/>
<text x="497.5" y="189.45" font-size="7.5" fill="#2a2a2a" stroke="#2a2a2a" stroke-width="0.22">P14</text>
<path d="M494.2 274.4V350.7" stroke="#333" stroke-width="1"/>
<text x="497.5" y="314.15" font-size="7.5" fill="#2a2a2a" stroke="#2a2a2a" stroke-width="0.22">Adult</text>
<rect x="0.5" y="0.5" width="519" height="369.5" fill="none" stroke="#555555" stroke-width="1"/>
<rect x="0" y="369.6" width="520" height="1.4" fill="#555555"/>
</g>
</svg>
</body></html>
